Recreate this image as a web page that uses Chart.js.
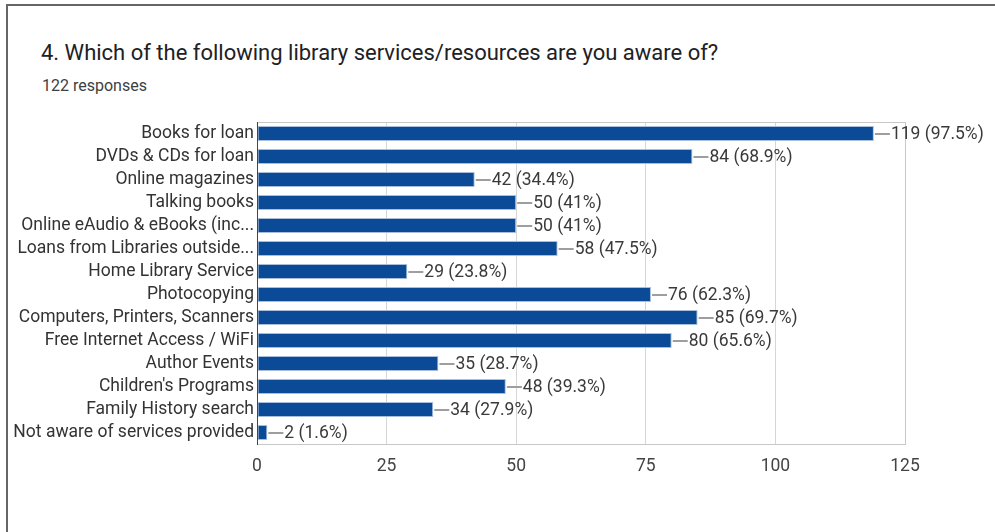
<!DOCTYPE html>
<html>
<head>
<meta charset="utf-8">
<script src="https://cdn.jsdelivr.net/npm/chart.js@4.4.1/dist/chart.umd.min.js"></script>
<style>
  html, body { margin: 0; padding: 0; background: #fff; }
  body { width: 995px; height: 532px; position: relative; overflow: hidden; font-family: Roboto, Arial, sans-serif; }
  .card { position: absolute; left: 6px; top: 4px; width: 1100px; height: 600px;
          border-left: 2px solid #666; border-top: 2px solid #666; box-sizing: border-box; }
  .title { position: absolute; left: 41px; top: 40px; font-size: 22px; color: #202124; white-space: nowrap; }
  .sub { position: absolute; left: 42px; top: 76px; font-size: 16px; color: #3c4043; white-space: nowrap; }
  #wrap { position: absolute; left: 0; top: 0; width: 995px; height: 532px; }
</style>
</head>
<body>
<div class="card"></div>
<div class="title">4. Which of the following library services/resources are you aware of?</div>
<div class="sub">122 responses</div>
<div id="wrap"><canvas id="chart" width="995" height="532"></canvas></div>
<script>
// Survey question 4: awareness of library services (multiple answers allowed)
const totalResponses = 122;
const services = [
  "Books for loan",
  "DVDs & CDs for loan",
  "Online magazines",
  "Talking books",
  "Online eAudio & eBooks (inc...",
  "Loans from Libraries outside...",
  "Home Library Service",
  "Photocopying",
  "Computers, Printers, Scanners",
  "Free Internet Access / WiFi",
  "Author Events",
  "Children's Programs",
  "Family History search",
  "Not aware of services provided"
];
const counts = [119, 84, 42, 50, 50, 58, 29, 76, 85, 80, 35, 48, 34, 2];
const xTicks = [0, 25, 50, 75, 100, 125];

const FONT = "Roboto, Arial, sans-serif";
const TEXT_SIZE = 17.5;

function pctLabel(v) {
  const p = Math.round(v / totalResponses * 1000) / 10;
  return v + " (" + p + "%)";
}

// Frame around the plot, the dark zero axis, and leader-lined value labels
const barLabels = {
  id: "barLabels",
  afterDatasetsDraw(chart) {
    const { ctx, chartArea: a } = chart;
    ctx.save();
    // plot frame
    ctx.strokeStyle = "#c8c8c8";
    ctx.lineWidth = 1;
    ctx.strokeRect(Math.round(a.left) + 0.5, Math.round(a.top) + 0.5,
                   Math.round(a.right - a.left), Math.round(a.bottom - a.top));
    // zero axis
    ctx.strokeStyle = "#444";
    ctx.beginPath();
    ctx.moveTo(Math.round(a.left) + 0.5, a.top);
    ctx.lineTo(Math.round(a.left) + 0.5, a.bottom + 1);
    ctx.stroke();

    const meta = chart.getDatasetMeta(0);
    ctx.font = TEXT_SIZE + "px " + FONT;
    ctx.textBaseline = "middle";
    ctx.textAlign = "left";
    meta.data.forEach((bar, i) => {
      const x = bar.x, y = Math.round(bar.y);
      ctx.strokeStyle = "#9e9e9e";
      ctx.lineWidth = 2;
      ctx.beginPath();
      ctx.moveTo(x + 1, y);
      ctx.lineTo(x + 16, y);
      ctx.stroke();
      ctx.fillStyle = "#3a3a3a";
      ctx.fillText(pctLabel(counts[i]), x + 17, y + 1);
    });
    ctx.restore();
  }
};

new Chart(document.getElementById("chart"), {
  type: "bar",
  data: {
    labels: services,
    datasets: [{
      data: counts,
      backgroundColor: "#0b4a96",
      borderColor: "#a9bedb",
      borderWidth: 1,
      borderSkipped: false,
      categoryPercentage: 1.0,
      barPercentage: 0.66
    }]
  },
  options: {
    indexAxis: "y",
    responsive: false,
    animation: false,
    layout: { padding: { left: 0, top: 122, right: 90, bottom: 0 } },
    plugins: { legend: { display: false }, tooltip: { enabled: false } },
    scales: {
      x: {
        min: 0, max: 125,
        afterBuildTicks(scale) { scale.ticks = xTicks.map(v => ({ value: v })); },
        grid: { color: "#d6d6d6", drawTicks: false },
        border: { display: false },
        ticks: { padding: 12, color: "#444", font: { family: FONT, size: TEXT_SIZE } },
        afterFit(scale) { scale.height = 88; }
      },
      y: {
        grid: { display: false, drawTicks: false },
        border: { display: false },
        ticks: { padding: 3, color: "#333", font: { family: FONT, size: TEXT_SIZE }, autoSkip: false },
        afterFit(scale) { scale.width = 257; }
      }
    }
  },
  plugins: [barLabels]
});
</script>
</body>
</html>
